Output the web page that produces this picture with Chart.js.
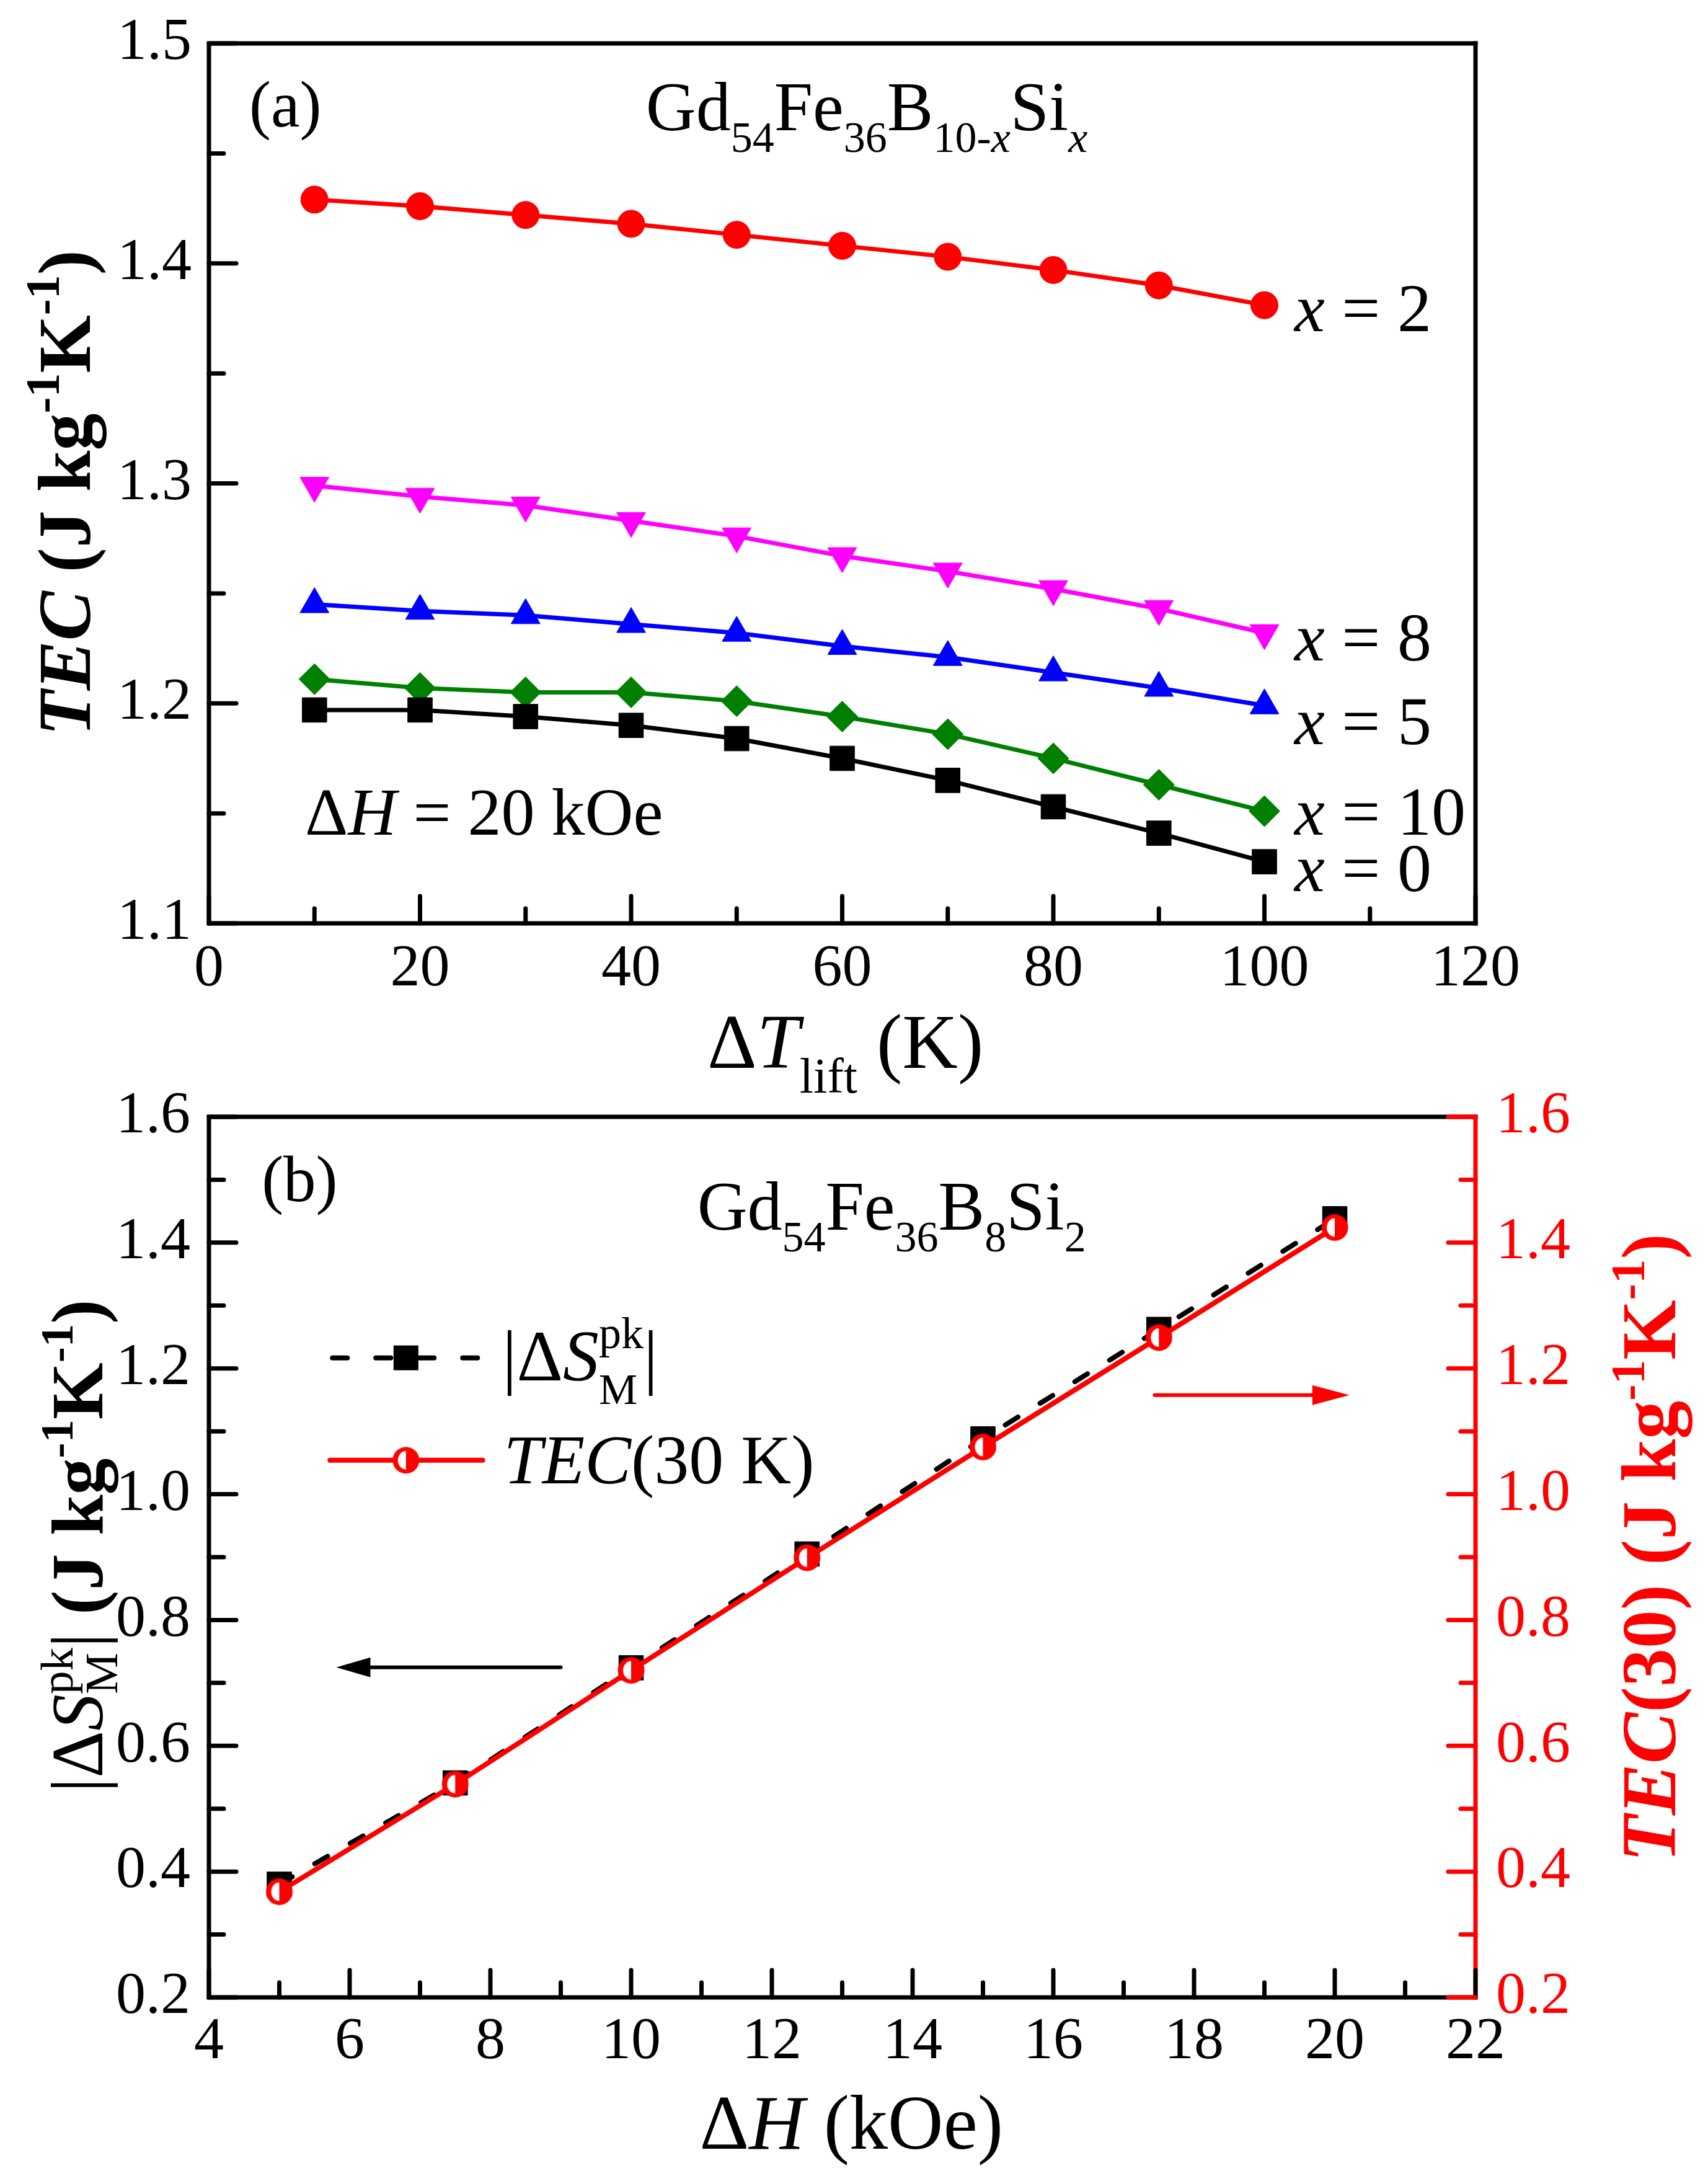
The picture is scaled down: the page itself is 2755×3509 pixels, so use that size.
<!DOCTYPE html>
<html>
<head>
<meta charset="utf-8">
<script src="https://cdn.jsdelivr.net/npm/chart.js@4.4.1/dist/chart.umd.min.js"></script>
<style>
  html, body { margin: 0; padding: 0; background: #fff; }
  body { width: 2755px; height: 3509px; position: relative; overflow: hidden; }
  canvas { position: absolute; left: 0; }
  #chartA { top: 0; }
  #chartB { top: 1740px; }
</style>
</head>
<body>
<canvas id="chartA" width="2755" height="1800"></canvas>
<canvas id="chartB" width="2755" height="1769"></canvas>
<script>
// panel (a): TEC vs lift temperature
const liftT = [10, 20, 30, 40, 50, 60, 70, 80, 90, 100];
const tecX0 = [1.197, 1.197, 1.194, 1.190, 1.184, 1.175, 1.165, 1.153, 1.141, 1.128];
const tecX2 = [1.429, 1.426, 1.422, 1.418, 1.413, 1.408, 1.403, 1.397, 1.390, 1.381];
const tecX5 = [1.245, 1.242, 1.240, 1.236, 1.232, 1.226, 1.221, 1.214, 1.207, 1.199];
const tecX8 = [1.299, 1.294, 1.290, 1.283, 1.276, 1.267, 1.260, 1.252, 1.243, 1.232];
const tecX10 = [1.211, 1.207, 1.205, 1.205, 1.201, 1.194, 1.186, 1.175, 1.163, 1.151];
const liftTicks = [0, 20, 40, 60, 80, 100, 120];
const tecTicks = [1.1, 1.2, 1.3, 1.4, 1.5];

// panel (b): peak entropy change and TEC(30 K) vs field
const fieldH = [5, 7.5, 10, 12.5, 15, 17.5, 20];
const peakDS = [0.380, 0.541, 0.724, 0.905, 1.088, 1.262, 1.438];
const tec30 = [0.368, 0.539, 0.720, 0.899, 1.075, 1.249, 1.424];
const fieldTicks = [4, 6, 8, 10, 12, 14, 16, 18, 20, 22];
const valTicks = [0.2, 0.4, 0.6, 0.8, 1.0, 1.2, 1.4, 1.6];

const FONT = '"Liberation Serif", "Times New Roman", serif';
const RED = '#FF0000';

const pts = (xs, ys) => xs.map((x, i) => ({ x: x, y: ys[i] }));
const seg = (t, size, o) => Object.assign({ t: t, size: size }, o || {});

function fontStr(p) {
  return (p.italic ? 'italic ' : '') + (p.bold ? 'bold ' : '') + p.size + 'px ' + FONT;
}
function measure(ctx, p) { ctx.font = fontStr(p); return ctx.measureText(p.t).width; }
function partWidth(ctx, p) {
  if (p.stack) return Math.max.apply(null, p.stack.map(q => measure(ctx, q)));
  return measure(ctx, p);
}
function drawRich(ctx, x, y, parts, align, color) {
  const w = parts.reduce((s, p) => s + partWidth(ctx, p), 0);
  let cx = align === 'center' ? x - w / 2 : x;
  ctx.textAlign = 'left';
  ctx.textBaseline = 'alphabetic';
  for (const p of parts) {
    for (const q of (p.stack || [p])) {
      ctx.font = fontStr(q);
      ctx.fillStyle = q.color || color || '#000';
      ctx.fillText(q.t, cx, y + (q.dy || 0));
    }
    cx += partWidth(ctx, p);
  }
}
function rotatedRich(ctx, bx, cy, parts, color) {
  ctx.save();
  ctx.translate(bx, cy);
  ctx.rotate(-Math.PI / 2);
  drawRich(ctx, 0, 0, parts, 'center', color);
  ctx.restore();
}

function tickValues(majors) {
  const minors = [];
  for (let i = 0; i < majors.length - 1; i++) minors.push((majors[i] + majors[i + 1]) / 2);
  return minors;
}
function inwardTicks(ctx, scale, majors, side, color) {
  const a = scale.chart.chartArea;
  ctx.save();
  ctx.strokeStyle = color;
  ctx.lineWidth = 7;
  ctx.lineCap = 'round';
  const one = (v, len) => {
    const p = scale.getPixelForValue(v);
    ctx.beginPath();
    if (side === 'bottom') { ctx.moveTo(p, a.bottom); ctx.lineTo(p, a.bottom - len); }
    if (side === 'left') { ctx.moveTo(a.left, p); ctx.lineTo(a.left + len, p); }
    if (side === 'right') { ctx.moveTo(a.right, p); ctx.lineTo(a.right - len, p); }
    ctx.stroke();
  };
  majors.forEach(v => one(v, 44));
  tickValues(majors).forEach(v => one(v, 24));
  ctx.restore();
}
function frame(ctx, a, rightColor) {
  ctx.save();
  ctx.lineWidth = 7;
  ctx.lineCap = 'square';
  ctx.strokeStyle = '#000';
  ctx.beginPath();
  ctx.moveTo(a.right, a.top); ctx.lineTo(a.left, a.top);
  ctx.lineTo(a.left, a.bottom); ctx.lineTo(a.right, a.bottom);
  ctx.stroke();
  ctx.strokeStyle = rightColor;
  ctx.beginPath();
  ctx.moveTo(a.right, a.top); ctx.lineTo(a.right, a.bottom);
  ctx.stroke();
  ctx.restore();
}
function arrow(ctx, x1, x2, y, color, lw, headLen, headHalf) {
  const dir = Math.sign(x2 - x1);
  ctx.save();
  ctx.strokeStyle = color; ctx.fillStyle = color;
  ctx.lineWidth = lw; ctx.lineCap = 'round';
  ctx.beginPath(); ctx.moveTo(x1, y); ctx.lineTo(x2 - dir * headLen * 0.8, y); ctx.stroke();
  ctx.beginPath();
  ctx.moveTo(x2, y);
  ctx.lineTo(x2 - dir * headLen, y - headHalf);
  ctx.lineTo(x2 - dir * headLen, y + headHalf);
  ctx.closePath(); ctx.fill();
  ctx.restore();
}

// half filled red circle used as point style
function halfCircle() {
  const r = 21.5;
  const c = document.createElement('canvas');
  c.width = 46; c.height = 46;
  const g = c.getContext('2d');
  g.fillStyle = RED;
  g.beginPath(); g.arc(23, 23, r, 0, 2 * Math.PI); g.fill();
  g.fillStyle = '#fff';
  g.beginPath(); g.ellipse(23, 23, 13, 15, 0, Math.PI / 2, Math.PI * 1.5); g.closePath(); g.fill();
  return c;
}
const halfMarker = halfCircle();

function tickFont() { return { family: FONT, size: 96 }; }
function setTicks(list) { return s => { s.ticks = list.map(v => ({ value: v })); }; }
// fixed axis box sizes, and no extra label overhang padding
function fixBox(w, h) {
  return s => {
    if (w !== null) s.width = w;
    if (h !== null) s.height = h;
    s.paddingTop = 0; s.paddingBottom = 0; s.paddingLeft = 0; s.paddingRight = 0;
  };
}

function lineSet(ys, color, style, radius, rot) {
  return {
    data: pts(liftT, ys),
    borderColor: color, backgroundColor: color,
    borderWidth: 7, tension: 0,
    pointStyle: style, pointRadius: radius, pointRotation: rot || 0,
    pointBackgroundColor: color, pointBorderColor: color, pointBorderWidth: 1
  };
}

const panelA = {
  id: 'panelA',
  afterDraw(chart) {
    const ctx = chart.ctx, a = chart.chartArea;
    const sx = chart.scales.x, sy = chart.scales.y;
    const X = v => sx.getPixelForValue(v), Y = v => sy.getPixelForValue(v);
    frame(ctx, a, '#000');
    inwardTicks(ctx, sx, liftTicks, 'bottom', '#000');
    inwardTicks(ctx, sy, tecTicks, 'left', '#000');

    drawRich(ctx, X(3.82), Y(1.4622), [seg('(a)', 105)], 'left');
    drawRich(ctx, X(41.4), Y(1.4605), [
      seg('Gd', 112), seg('54', 70, { dy: 35 }), seg('Fe', 112), seg('36', 70, { dy: 35 }),
      seg('B', 112), seg('10-', 70, { dy: 35 }), seg('x', 70, { dy: 35, italic: 1 }),
      seg('Si', 112), seg('x', 70, { dy: 35, italic: 1 })
    ], 'left');
    const curveLabels = [['2', 1.3692], ['8', 1.2195], ['5', 1.1815], ['10', 1.1403], ['0', 1.1147]];
    curveLabels.forEach(l => drawRich(ctx, X(102.85), Y(l[1]),
      [seg('x', 110, { italic: 1 }), seg(' = ' + l[0], 110)], 'left'));
    drawRich(ctx, X(9.11), Y(1.1403),
      [seg('\u0394', 108), seg('H', 108, { italic: 1 }), seg(' = 20 kOe', 108)], 'left');

    drawRich(ctx, X(60.3), 1722, [
      seg('\u0394', 124), seg('T', 124, { italic: 1 }), seg('lift', 80, { dy: 40 }), seg(' (K)', 124)
    ], 'center');
    rotatedRich(ctx, 145, 795, [
      seg('TEC', 120, { bold: 1, italic: 1 }), seg(' (J kg', 120, { bold: 1 }),
      seg('-1', 78, { bold: 1, dy: -50 }), seg('K', 120, { bold: 1 }),
      seg('-1', 78, { bold: 1, dy: -50 }), seg(')', 120, { bold: 1 })
    ]);
  }
};

new Chart(document.getElementById('chartA'), {
  type: 'line',
  data: {
    datasets: [
      lineSet(tecX0, '#000000', 'rect', 28),
      lineSet(tecX10, '#008000', 'rectRot', 25),
      lineSet(tecX5, '#0000FF', 'triangle', 27),
      lineSet(tecX8, '#FF00FF', 'triangle', 27, 180),
      lineSet(tecX2, RED, 'circle', 22)
    ]
  },
  options: {
    responsive: false, animation: false, devicePixelRatio: 1,
    layout: { padding: { left: 0, right: 375, top: 70, bottom: 0 } },
    plugins: { legend: { display: false }, tooltip: { enabled: false } },
    scales: {
      x: {
        type: 'linear', min: 0, max: 120,
        afterBuildTicks: setTicks(liftTicks),
        afterFit: fixBox(null, 1800 - 1489),
        grid: { display: false, drawTicks: false }, border: { display: false },
        ticks: { font: tickFont(), color: '#000', padding: 17, autoSkip: false, maxRotation: 0 }
      },
      y: {
        min: 1.1, max: 1.5,
        afterBuildTicks: setTicks(tecTicks),
        afterFit: fixBox(337, null),
        grid: { display: false, drawTicks: false }, border: { display: false },
        ticks: { font: tickFont(), color: '#000', padding: 28, callback: v => v.toFixed(1) }
      }
    }
  },
  plugins: [panelA]
});

const panelB = {
  id: 'panelB',
  afterDraw(chart) {
    const ctx = chart.ctx, a = chart.chartArea;
    const sx = chart.scales.x, sy = chart.scales.y, sy2 = chart.scales.y2;
    const X = v => sx.getPixelForValue(v), Y = v => sy.getPixelForValue(v);
    frame(ctx, a, RED);
    inwardTicks(ctx, sx, fieldTicks, 'bottom', '#000');
    inwardTicks(ctx, sy, valTicks, 'left', '#000');
    inwardTicks(ctx, sy2, valTicks, 'right', RED);

    drawRich(ctx, X(4.75), Y(1.4663), [seg('(b)', 105)], 'left');
    drawRich(ctx, X(10.94), Y(1.4209), [
      seg('Gd', 112), seg('54', 70, { dy: 35 }), seg('Fe', 112), seg('36', 70, { dy: 35 }),
      seg('B', 112), seg('8', 70, { dy: 35 }), seg('Si', 112), seg('2', 70, { dy: 35 })
    ], 'left');

    // legend
    ctx.save();
    ctx.strokeStyle = '#000'; ctx.lineWidth = 8; ctx.lineCap = 'round';
    ctx.setLineDash([24, 46]);
    ctx.beginPath(); ctx.moveTo(X(5.72) + 4, Y(1.2168)); ctx.lineTo(X(7.89), Y(1.2168)); ctx.stroke();
    ctx.setLineDash([]);
    ctx.fillStyle = '#000';
    ctx.fillRect(X(6.80) - 20, Y(1.2168) - 20, 40, 40);
    ctx.strokeStyle = RED;
    ctx.beginPath(); ctx.moveTo(X(5.72), Y(1.054)); ctx.lineTo(X(7.89), Y(1.054)); ctx.stroke();
    ctx.drawImage(halfMarker, X(6.80) - 23, Y(1.054) - 23);
    ctx.restore();
    drawRich(ctx, X(8.17), Y(1.1813), [
      seg('|', 116), seg('\u0394', 116), seg('S', 116, { italic: 1 }),
      { stack: [seg('pk', 72, { dy: -52 }), seg('M', 70, { dy: 38 })] }, seg('|', 116)
    ], 'left');
    drawRich(ctx, X(8.19), Y(1.0176), [seg('TEC', 112, { italic: 1 }), seg('(30 K)', 112)], 'left');

    arrow(ctx, X(9.0), X(5.81), Y(0.7247), '#000', 6, 55, 16);
    arrow(ctx, X(17.44), X(20.21), Y(1.1576), RED, 6, 60, 16);

    drawRich(ctx, X(13.13), 1725, [
      seg('\u0394', 124), seg('H', 124, { italic: 1 }), seg(' (kOe)', 124)
    ], 'center');
    rotatedRich(ctx, 165, 753, [
      seg('|', 118), seg('\u0394', 118), seg('S', 118, { italic: 1 }),
      { stack: [seg('pk', 75, { dy: -48 }), seg('M', 75, { dy: 24 })] }, seg('|', 118),
      seg(' (J kg', 118, { bold: 1 }), seg('-1', 75, { bold: 1, dy: -48 }),
      seg('K', 118, { bold: 1 }), seg('-1', 75, { bold: 1, dy: -48 }), seg(')', 118, { bold: 1 })
    ]);
    rotatedRich(ctx, 2702, 756, [
      seg('TEC', 124, { bold: 1, italic: 1 }), seg('(30) (J kg', 124, { bold: 1 }),
      seg('-1', 79, { bold: 1, dy: -50 }), seg('K', 124, { bold: 1 }),
      seg('-1', 79, { bold: 1, dy: -50 }), seg(')', 124, { bold: 1 })
    ], RED);
  }
};

new Chart(document.getElementById('chartB'), {
  type: 'line',
  data: {
    datasets: [
      {
        data: pts(fieldH, tec30), yAxisID: 'y2', order: 0,
        borderColor: RED, borderWidth: 8, tension: 0,
        pointStyle: halfMarker, pointRadius: 22
      },
      {
        data: pts(fieldH, peakDS), yAxisID: 'y', order: 1,
        borderColor: '#000', borderWidth: 8, tension: 0,
        borderDash: [24, 42], borderCapStyle: 'round',
        pointStyle: 'rect', pointRadius: 28,
        pointBackgroundColor: '#000', pointBorderColor: '#000', pointBorderWidth: 1
      }
    ]
  },
  options: {
    responsive: false, animation: false, devicePixelRatio: 1,
    layout: { padding: { left: 0, right: 0, top: 61, bottom: 0 } },
    plugins: { legend: { display: false }, tooltip: { enabled: false } },
    scales: {
      x: {
        type: 'linear', min: 4, max: 22,
        afterBuildTicks: setTicks(fieldTicks),
        afterFit: fixBox(null, 1769 - 1481),
        grid: { display: false, drawTicks: false }, border: { display: false },
        ticks: { font: tickFont(), color: '#000', padding: 15, autoSkip: false, maxRotation: 0 }
      },
      y: {
        position: 'left', min: 0.2, max: 1.6,
        afterBuildTicks: setTicks(valTicks),
        afterFit: fixBox(337, null),
        grid: { display: false, drawTicks: false }, border: { display: false },
        ticks: { font: tickFont(), color: '#000', padding: 30, callback: v => v.toFixed(1) }
      },
      y2: {
        position: 'right', min: 0.2, max: 1.6,
        afterBuildTicks: setTicks(valTicks),
        afterFit: fixBox(375, null),
        grid: { display: false, drawTicks: false }, border: { display: false },
        ticks: { font: tickFont(), color: RED, padding: 33, callback: v => v.toFixed(1) }
      }
    }
  },
  plugins: [panelB]
});
</script>
</body>
</html>
